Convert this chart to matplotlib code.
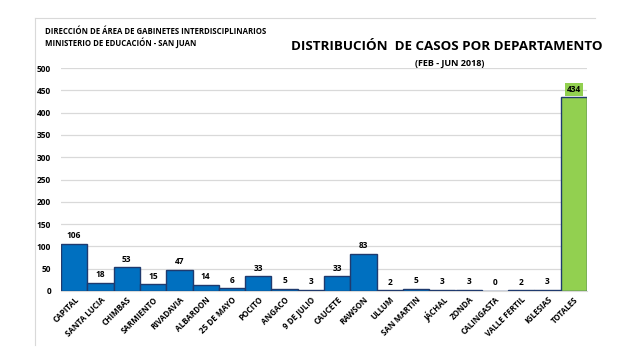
import matplotlib.pyplot as plt
import numpy as np
from matplotlib.lines import Line2D

plt.rcParams['font.family'] = ['Open Sans', 'DejaVu Sans']

# Departments and number of cases
departamentos = ["CAPITAL", "SANTA LUCIA", "CHIMBAS", "SARMIENTO", "RIVADAVIA",
                 "ALBARDON", "25 DE MAYO", "POCITO", "ANGACO", "9 DE JULIO",
                 "CAUCETE", "RAWSON", "ULLUM", "SAN MARTIN", "JÁCHAL", "ZONDA",
                 "CALINGASTA", "VALLE FERTIL", "IGLESIAS", "TOTALES"]
casos = [106, 18, 53, 15, 47, 14, 6, 33, 5, 3, 33, 83, 2, 5, 3, 3, 0, 2, 3, 434]
yticks = [0, 50, 100, 150, 200, 250, 300, 350, 400, 450, 500]

fig = plt.figure(figsize=(6.34, 3.56), dpi=100)
ax = fig.add_axes([61 / 634, 1 - 291 / 356, 526 / 634, 223 / 356])

x = np.arange(len(departamentos))
colors = ['#0070C0'] * (len(casos) - 1) + ['#92D050']
ax.bar(x, casos, width=1.0, color=colors, edgecolor='#1F3A6E', linewidth=1.0, zorder=3)

# Value labels
for i, v in enumerate(casos):
    if i == len(casos) - 1:
        ax.text(i, v + 8, str(v), ha='center', va='bottom', fontsize=6, fontweight='bold',
                bbox=dict(boxstyle='square,pad=0.25', fc='#92D050', ec='none'))
    else:
        ax.text(i, v + 8, str(v), ha='center', va='bottom', fontsize=6, fontweight='bold')

ax.set_xlim(-0.5, len(casos) - 0.5)
ax.set_ylim(0, 500)
ax.set_yticks(yticks)
ax.tick_params(axis='y', labelsize=6, length=0, pad=7)
ax.set_xticks(x)
ax.set_xticklabels(departamentos, rotation=45, ha='right', rotation_mode='anchor',
                   fontsize=5.8, fontweight='bold')
ax.tick_params(axis='x', length=0, pad=3)
for lbl in ax.get_yticklabels():
    lbl.set_fontweight('bold')
ax.grid(axis='y', color='#D9D9D9', linewidth=0.9, zorder=0)
for s in ['top', 'right', 'left']:
    ax.spines[s].set_visible(False)
ax.spines['bottom'].set_color('#D9D9D9')

# Titles
fig.text(45 / 634, 1 - 31 / 356, "DIRECCIÓN DE ÁREA DE GABINETES INTERDISCIPLINARIOS",
         fontsize=5.6, fontweight='bold', va='center')
fig.text(45 / 634, 1 - 43 / 356, "MINISTERIO DE EDUCACIÓN - SAN JUAN",
         fontsize=5.6, fontweight='bold', va='center')
fig.text(447 / 634, 1 - 47 / 356, "DISTRIBUCIÓN  DE CASOS POR DEPARTAMENTO",
         fontsize=9.6, fontweight='bold', ha='center', va='center')
fig.text(450 / 634, 1 - 63 / 356, "(FEB - JUN 2018)",
         fontsize=6.5, fontweight='bold', ha='center', va='center')

# Chart frame
fig.add_artist(Line2D([35 / 634, 595 / 634], [1 - 18 / 356, 1 - 18 / 356],
                      color='#D9D9D9', linewidth=0.8))
fig.add_artist(Line2D([35 / 634, 35 / 634], [1 - 18 / 356, 1 - 345 / 356],
                      color='#D9D9D9', linewidth=0.8))

plt.savefig('out.png', dpi=100)
